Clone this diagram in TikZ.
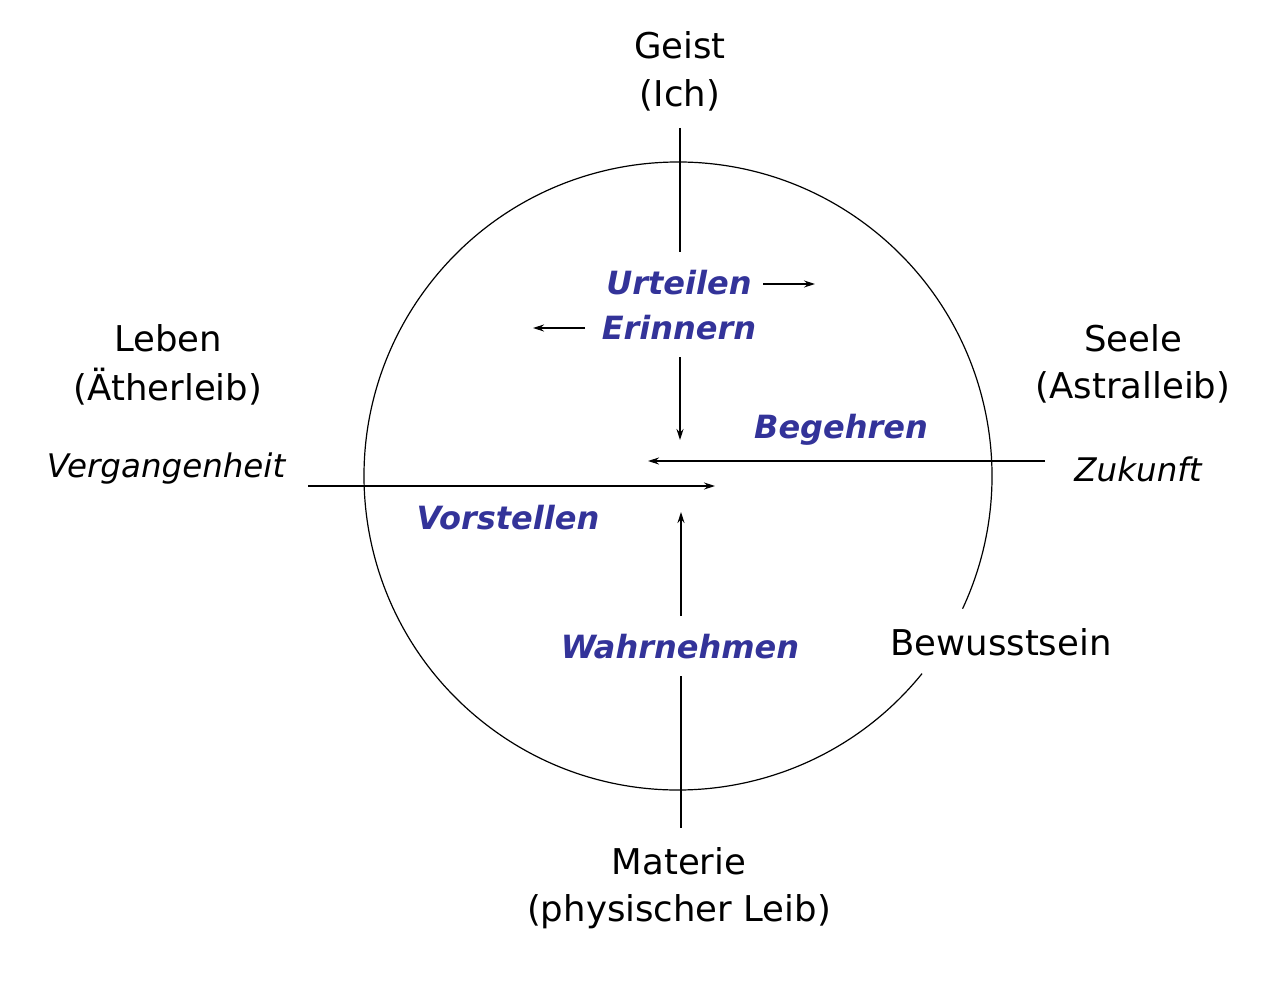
\documentclass[tikz,border=0pt]{standalone}
\usepackage{fontspec}
\setmainfont{DejaVu Sans}
\usetikzlibrary{arrows.meta}
\definecolor{lblue}{RGB}{51,51,153}
\begin{document}
\begin{tikzpicture}[x=1pt,y=-1pt,
  big/.style={font=\fontsize{35.5}{38}\selectfont},
  ital/.style={font=\fontsize{32.5}{35}\selectfont\itshape},
  blu/.style={font=\fontsize{32}{35}\selectfont\bfseries\itshape,text=lblue},
  ln/.style={line width=1.2pt},
  ar/.style={line width=1.2pt,-{Stealth[length=11pt,width=7pt]}}]
\useasboundingbox (0,0) rectangle (1279,981);
\draw[ln] (678,476) ++(39:314) arc[start angle=39,end angle=385,radius=314];
\node[big] (geist) at (680,45) {Geist};
\node[big] (ich) at (680,95) {(Ich)};
\node[big] (leben) at (168,338) {Leben};
\node[big] (ather) at (168,387) {(Ätherleib)};
\node[big] (seele) at (1133,338) {Seele};
\node[big] (astral) at (1133,387) {(Astralleib)};
\node[ital] (verg) at (166,469) {Vergangenheit};
\node[ital] (zuk) at (1138,469) {Zukunft};
\node[blu] (urt) at (679,283) {Urteilen};
\node[blu] (erin) at (679,328) {Erinnern};
\node[blu] (beg) at (841,430) {Begehren};
\node[blu] (vor) at (508,518) {Vorstellen};
\node[blu] (wahr) at (680,647) {Wahrnehmen};
\node[big] (bew) at (1001,642) {Bewusstsein};
\node[big] (mat) at (679,861) {Materie};
\node[big] (phys) at (679,912) {(physischer Leib)};
\coordinate (t1) at (680,128); \coordinate (t2) at (680,252);
\draw[ln] (t1) -- (t2);
\coordinate (u1) at (763,284); \coordinate (u2) at (815,284);
\draw[ar] (u1) -- (u2);
\coordinate (e1) at (585,328); \coordinate (e2) at (533,328);
\draw[ar] (e1) -- (e2);
\coordinate (d1) at (680,357); \coordinate (d2) at (680,440);
\draw[ar] (d1) -- (d2);
\coordinate (b1) at (1045,461); \coordinate (b2) at (648,461);
\draw[ar] (b1) -- (b2);
\coordinate (v1) at (308,486); \coordinate (v2) at (715,486);
\draw[ar] (v1) -- (v2);
\coordinate (w1) at (681,616); \coordinate (w2) at (681,512);
\draw[ar] (w1) -- (w2);
\coordinate (m1) at (681,676); \coordinate (m2) at (681,828);
\draw[ln] (m1) -- (m2);
\end{tikzpicture}
\end{document}
